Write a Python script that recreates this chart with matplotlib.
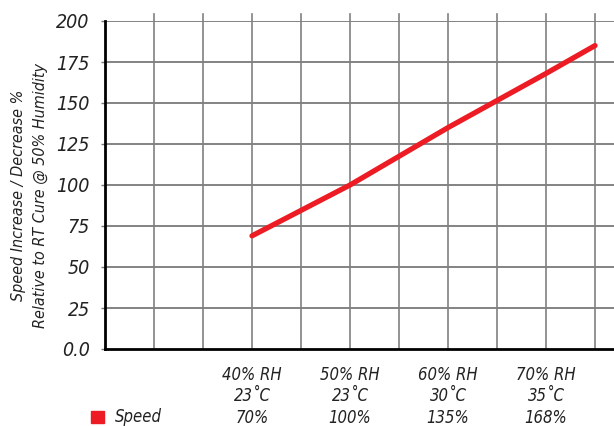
import numpy as np
import matplotlib
matplotlib.use("Agg")
import matplotlib.pyplot as plt
from matplotlib.patches import Rectangle

# datos
humedad = [40, 50, 60, 70, 75]
velocidad = [69, 100, 135, 168, 185]

etiquetas_x = [40, 50, 60, 70]
textos_x = ["40% RH\n23˚C\n70%", "50% RH\n23˚C\n100%",
            "60% RH\n30˚C\n135%", "70% RH\n35˚C\n168%"]

ticks_y = [0, 25, 50, 75, 100, 125, 150, 175, 200]
textos_y = ["0.0", "25", "50", "75", "100", "125", "150", "175", "200"]

rojo = "#ed1c24"
plt.rcParams["font.family"] = ["DejaVu Sans"]
plt.rcParams["font.stretch"] = "condensed"

fig = plt.figure(figsize=(6.14, 4.26), dpi=100)
ax = fig.add_axes([105 / 614, 1 - 349 / 426, 1 - 105 / 614, 328 / 426])

ax.set_xlim(25, 25 + (614 - 105) / 49 * 5)
ax.set_ylim(0, 200)

# grilla
for y in ticks_y[1:]:
    ax.axhline(y, color="#6e6e6e", lw=1.2, zorder=1)
for x in np.arange(30, 80, 5):
    ax.axvline(x, ymin=0, ymax=1.02, color="#808080", lw=1.2, zorder=1, clip_on=False)

ax.plot(humedad, velocidad, color=rojo, lw=3.8, solid_capstyle="round", zorder=3)

for lado in ["top", "right"]:
    ax.spines[lado].set_visible(False)
ax.spines["left"].set_linewidth(2)
ax.spines["bottom"].set_linewidth(2)

ax.set_yticks(ticks_y)
ax.set_yticklabels(textos_y, fontsize=14, style="italic", stretch="condensed", color="#222222")
ax.tick_params(axis="y", length=3, width=1, color="#777777", pad=8)

ax.set_xticks(etiquetas_x)
ax.set_xticklabels(textos_x, fontsize=12, style="italic", stretch="condensed",
                   linespacing=1.25, color="#222222")
ax.tick_params(axis="x", length=0, pad=12)

fig.text(0.030, 0.542, "Speed Increase / Decrease %", rotation=90,
         ha="center", va="center", fontsize=11.5, style="italic", stretch="condensed", color="#222222")
fig.text(0.065, 0.542, "Relative to RT Cure @ 50% Humidity", rotation=90,
         ha="center", va="center", fontsize=11.5, style="italic", stretch="condensed", color="#222222")

# leyenda
fig.patches.append(Rectangle((91 / 614, 1 - 423 / 426), 13 / 614, 12 / 426,
                             transform=fig.transFigure, color=rojo))
fig.text(115 / 614, 1 - 417 / 426, "Speed", fontsize=12, style="italic", stretch="condensed",
         va="center", ha="left", color="#222222")

fig.savefig("out.png", dpi=100)
